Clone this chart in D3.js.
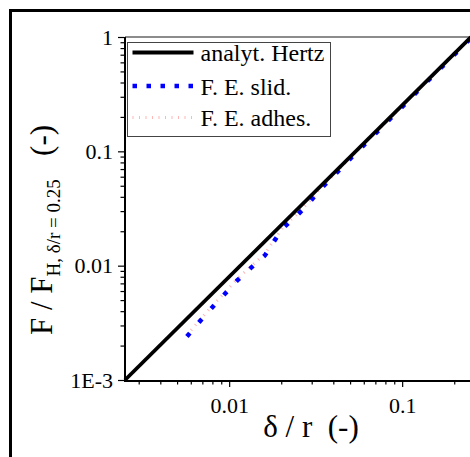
<!DOCTYPE html>
<html>
<head>
<meta charset="utf-8">
<script src="https://cdn.jsdelivr.net/npm/d3@7"></script>
<style>
body { margin: 0; background: #fff; }
</style>
</head>
<body>
<div id="drawing"></div>
<script>
"use strict"

/**** DATA ****/

let hertzDelta = [0.0025, 0.25]
let hertzForce = [0.001, 1]

let slidDelta = [0.0057, 0.0067, 0.0079, 0.0094, 0.0111, 0.0134, 0.0161, 0.0182, 0.0206, 0.0246,
                 0.0289, 0.0336, 0.0398, 0.05, 0.07, 0.1, 0.14, 0.2, 0.25]
let slidForce = [0.0024, 0.0032, 0.00424, 0.00562, 0.0074, 0.0096, 0.0123, 0.0164, 0.0215, 0.0274,
                 0.0352, 0.0466, 0.0601, 0.086, 0.143, 0.245, 0.41, 0.70, 0.98]

let adhesDelta = [0.0057, 0.0067, 0.0079, 0.0094, 0.0111, 0.0134, 0.0161, 0.0182, 0.0206, 0.0246,
                  0.0289, 0.0336, 0.0398, 0.05, 0.07, 0.1, 0.14, 0.2, 0.25]
let adhesForce = [0.00246, 0.0033, 0.00437, 0.0058, 0.00762, 0.0099, 0.0127, 0.0168, 0.0220, 0.0281,
                  0.0361, 0.0477, 0.0615, 0.088, 0.146, 0.25, 0.418, 0.71, 0.99]

let xTickValues = [0.01, 0.1]
let xTickLabels = ["0.01", "0.1"]
let yTickValues = [0.001, 0.01, 0.1, 1]
let yTickLabels = ["1E-3", "0.01", "0.1", "1"]

let legendLabels = ["analyt. Hertz", "F. E. slid.", "F. E. adhes."]


/**** CONFIGURATION ****/

let svgWidth = 470
let svgHeight = 457

let plotLeft = 125
let plotRight = 471
let plotTop = 37
let plotBottom = 380

let serif = "'Liberation Serif', 'Times New Roman', Times, serif"


/**** CANVAS SETUP ****/

let svg = d3.select("#drawing")
.append("svg")
.attr("width", svgWidth)
.attr("height", svgHeight)
.style("font-family", serif)

// outer frame (cut off on right and bottom)
svg.append("rect")
.attr("x", 10.5)
.attr("y", 10.5)
.attr("width", 600)
.attr("height", 600)
.attr("fill", "none")
.attr("stroke", "black")
.attr("stroke-width", 3)


/**** SCALES ****/

let xScale = d3.scaleLog()
.domain([0.0025, 0.25])
.range([plotLeft, plotRight])

let yScale = d3.scaleLog()
.domain([0.001, 1])
.range([plotBottom, plotTop])


/**** AXES ****/

let xMinor = xScale.ticks().filter(v => !xTickValues.includes(v))
let yMinor = yScale.ticks().filter(v => !yTickValues.some(t => Math.abs(t - v) < 1e-9))

svg.append("g")
.attr("transform", "translate(0," + (plotBottom + 1) + ")")
.call(d3.axisBottom(xScale).tickValues(xMinor).tickSize(3.5).tickFormat(""))

svg.append("g")
.attr("transform", "translate(0," + (plotBottom + 1) + ")")
.call(d3.axisBottom(xScale).tickValues(xTickValues).tickSize(6).tickPadding(10)
      .tickFormat((d, i) => xTickLabels[i]))

svg.append("g")
.attr("transform", "translate(" + (plotLeft - 1) + ",0)")
.call(d3.axisLeft(yScale).tickValues(yMinor).tickSize(3.5).tickFormat(""))

svg.append("g")
.attr("transform", "translate(" + (plotLeft - 1) + ",0)")
.call(d3.axisLeft(yScale).tickValues(yTickValues).tickSize(6).tickPadding(5)
      .tickFormat((d, i) => yTickLabels[i]))

svg.selectAll(".domain").remove()
svg.selectAll(".tick line").attr("stroke", "black").attr("stroke-width", 1.2)
svg.selectAll(".tick text").style("font-size", "22px").attr("fill", "black")

// top frame line (gray)
svg.append("line")
.attr("x1", plotLeft).attr("x2", plotRight)
.attr("y1", plotTop).attr("y2", plotTop)
.attr("stroke", "#666")
.attr("stroke-width", 1.5)

// axis lines
svg.append("line")
.attr("x1", plotLeft).attr("x2", plotLeft)
.attr("y1", plotTop).attr("y2", plotBottom + 2)
.attr("stroke", "black")
.attr("stroke-width", 2)

svg.append("line")
.attr("x1", plotLeft - 1).attr("x2", plotRight)
.attr("y1", plotBottom + 1).attr("y2", plotBottom + 1)
.attr("stroke", "black")
.attr("stroke-width", 2)


/**** CURVES ****/

let line = d3.line()
.x(d => xScale(d[0]))
.y(d => yScale(d[1]))

svg.append("path")
.datum(d3.zip(adhesDelta, adhesForce))
.attr("d", line)
.attr("fill", "none")
.attr("stroke", "#ffb6b6")
.attr("stroke-width", 3)
.attr("stroke-dasharray", "1,5.5")

svg.append("path")
.datum(d3.zip(slidDelta, slidForce))
.attr("d", line)
.attr("fill", "none")
.attr("stroke", "#0000ff")
.attr("stroke-width", 4.5)
.attr("stroke-dasharray", "4.5,14")

svg.append("path")
.datum(d3.zip(hertzDelta, hertzForce))
.attr("d", line)
.attr("fill", "none")
.attr("stroke", "black")
.attr("stroke-width", 3.8)


/**** AXIS LABELS ****/

svg.append("text")
.attr("x", 311)
.attr("y", 437)
.style("text-anchor", "middle")
.style("font-size", "31px")
.text("δ / r\u00a0\u00a0(-)")

let yLabel = svg.append("text")
.attr("transform", "translate(52,230) rotate(-90)")
.style("text-anchor", "middle")
.style("font-size", "31px")

yLabel.append("tspan").text("F / F")
yLabel.append("tspan")
.attr("dy", 8)
.style("font-size", "19px")
.text("H, δ/r = 0.25")
yLabel.append("tspan")
.attr("dy", -8)
.style("font-size", "31px")
.text("\u00a0\u00a0\u00a0(-)")


/**** LEGEND ****/

let legend = svg.append("g")
.attr("transform", "translate(127.5,42.5)")

legend.append("rect")
.attr("width", 203)
.attr("height", 94)
.attr("fill", "white")
.attr("stroke", "#444")
.attr("stroke-width", 1)

let legendRows = [
  {y: 10, stroke: "black", width: 3.8, dash: null},
  {y: 43.5, stroke: "#0000ff", width: 4.5, dash: "4.5,9.5"},
  {y: 75, stroke: "#ffb6b6", width: 3, dash: "1,5.5"}
]

legendRows.forEach(function(r, i){
  legend.append("line")
  .attr("x1", 5).attr("x2", 66)
  .attr("y1", r.y).attr("y2", r.y)
  .attr("stroke", r.stroke)
  .attr("stroke-width", r.width)
  .attr("stroke-dasharray", r.dash)

  legend.append("text")
  .attr("x", 73)
  .attr("y", r.y + 8.5)
  .style("font-size", "24px")
  .text(legendLabels[i])
})

// force the serif face on every text, including the axis groups
svg.selectAll("g").attr("font-family", null)
svg.selectAll("text").style("font-family", serif).attr("fill", "black")
</script>
</body>
</html>
